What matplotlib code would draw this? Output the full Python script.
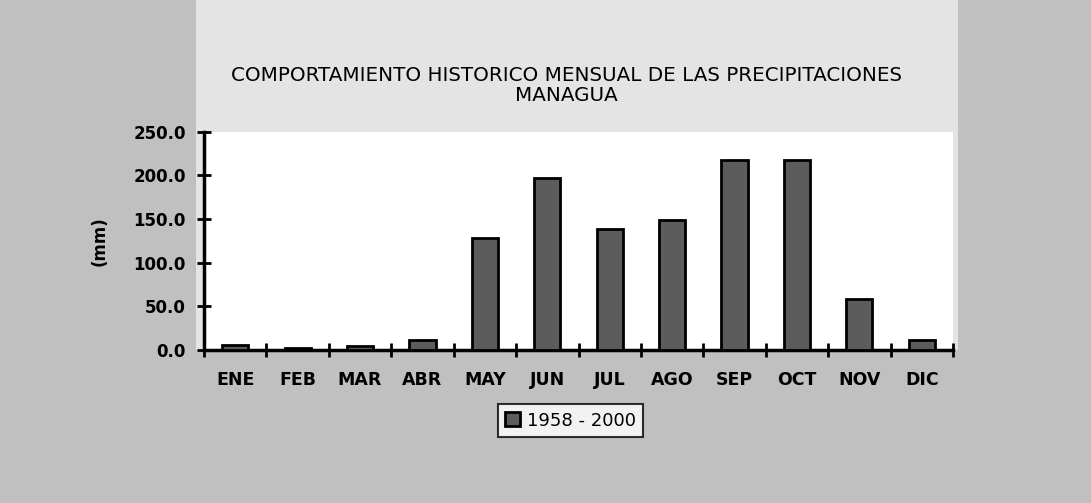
import numpy as np
import matplotlib.pyplot as plt
from matplotlib.patches import Rectangle

# Monthly rainfall, Managua (mm), 1958 - 2000
months = ["ENE", "FEB", "MAR", "ABR", "MAY", "JUN", "JUL", "AGO", "SEP", "OCT", "NOV", "DIC"]
rain_mm = [5.5, 2.5, 4.5, 12.0, 128.0, 197.0, 139.0, 149.0, 218.0, 218.0, 59.0, 11.0]
series_label = "1958 - 2000"
yticks = [0, 50, 100, 150, 200, 250]

plt.rcParams['font.family'] = ['DejaVu Sans']

fig = plt.figure(figsize=(10.91, 5.03), dpi=100)
fig.patch.set_facecolor("#c0c0c0")

# lighter area behind title and plot
fig.patches.append(Rectangle((0.18, 0.304), 0.698, 0.696, transform=fig.transFigure,
                             facecolor="#e4e4e4", edgecolor="none", zorder=-1))

ax = fig.add_axes([0.187, 0.304, 0.6865, 0.434])
ax.set_zorder(2)
ax.set_facecolor("white")

x = np.arange(len(months))
ax.bar(x, rain_mm, width=0.42, color="#5c5c5c", edgecolor="black", linewidth=2,
       label=series_label, zorder=3)

ax.set_xlim(-0.5, len(months) - 0.5)
ax.set_ylim(0, 250)

# category boundary ticks on x, labels at centres
ax.set_xticks(np.arange(-0.5, len(months) + 0.5, 1))
ax.set_xticklabels([])
ax.set_xticks(x, minor=True)
ax.set_xticklabels(months, minor=True, fontsize=12.5, fontweight="bold")
ax.tick_params(axis="x", which="major", direction="inout", length=10, width=2)
ax.tick_params(axis="x", which="minor", length=0, pad=15)

ax.set_yticks(yticks)
ax.set_yticklabels([f"{v:.1f}" for v in yticks], fontsize=12, fontweight="bold")
ax.tick_params(axis="y", direction="inout", length=10, width=2, pad=8)

for side in ["top", "right"]:
    ax.spines[side].set_visible(False)
ax.spines["left"].set_linewidth(2.5)
ax.spines["bottom"].set_linewidth(2.5)

ax.set_ylabel("(mm)", fontsize=12, fontweight="bold", labelpad=18)

fig.text(0.519, 0.83, "COMPORTAMIENTO HISTORICO MENSUAL DE LAS PRECIPITACIONES\nMANAGUA",
         ha="center", va="center", fontsize=14.3, linespacing=1.1)

leg = fig.legend(loc="center", bbox_to_anchor=(0.523, 0.164), fontsize=13,
                 frameon=True, fancybox=False, edgecolor="black", handlelength=0.8,
                 handleheight=0.8, handletextpad=0.4, borderpad=0.4)
leg.get_frame().set_linewidth(1.5)
leg.get_frame().set_facecolor("white")

fig.savefig("out.png", dpi=100, facecolor=fig.get_facecolor())
